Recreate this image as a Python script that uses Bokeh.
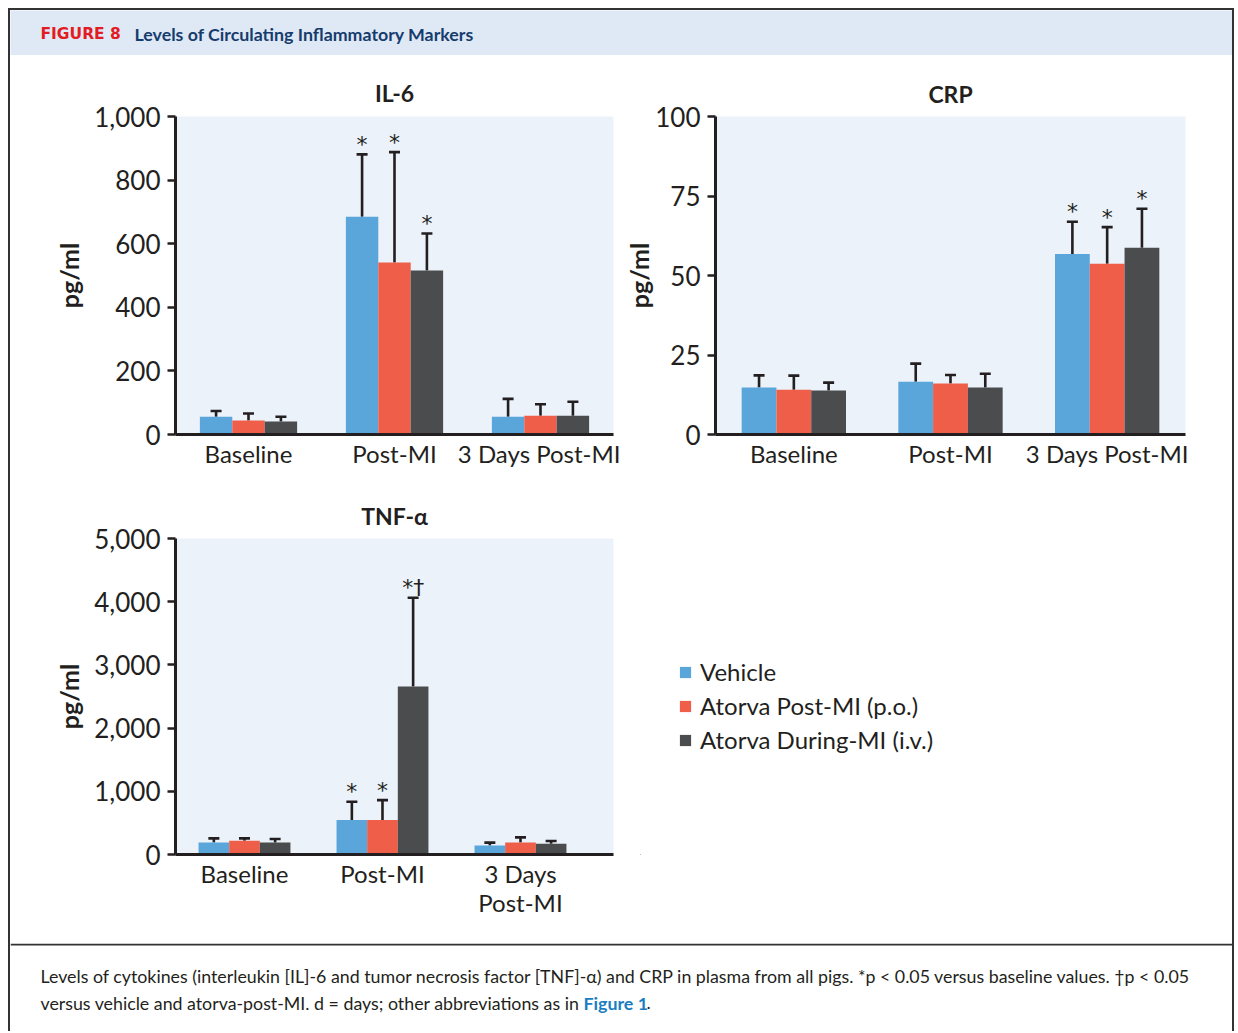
from bokeh.plotting import figure
from bokeh.models import (ColumnDataSource, Range1d, FixedTicker, NumeralTickFormatter,
                          Whisker, TeeHead, Legend, LegendItem, Label, Span)
from bokeh.layouts import column, row
from bokeh.transform import dodge
from bokeh.core.properties import value
from bokeh.embed import file_html
from bokeh.resources import INLINE

# ---------------- data ----------------
series_names = ["Vehicle", "Atorva Post-MI (p.o.)", "Atorva During-MI (i.v.)"]
series_colors = ["#5aa5da", "#ee5e48", "#4b4c4e"]

il6_categories = ["Baseline", "Post-MI", "3 Days Post-MI"]
il6_vehicle = [56, 685, 56]
il6_vehicle_err = [18, 196, 56]
il6_post = [44, 541, 59]
il6_post_err = [22, 347, 36]
il6_during = [41, 516, 59]
il6_during_err = [15, 116, 44]
il6_vehicle_sig = ["", "*", ""]
il6_post_sig = ["", "*", ""]
il6_during_sig = ["", "*", ""]
il6_ticks = [0, 200, 400, 600, 800, 1000]

crp_categories = ["Baseline", "Post-MI", "3 Days Post-MI"]
crp_vehicle = [14.8, 16.6, 56.8]
crp_vehicle_err = [3.8, 5.7, 10.1]
crp_post = [14.1, 16.0, 53.7]
crp_post_err = [4.4, 2.7, 11.5]
crp_during = [13.8, 14.8, 58.7]
crp_during_err = [2.5, 4.3, 12.3]
crp_vehicle_sig = ["", "", "*"]
crp_post_sig = ["", "", "*"]
crp_during_sig = ["", "", "*"]
crp_ticks = [0, 25, 50, 75, 100]

tnf_categories = ["Baseline", "Post-MI", "3 Days\nPost-MI"]
tnf_vehicle = [188, 547, 141]
tnf_vehicle_err = [67, 287, 47]
tnf_post = [219, 547, 188]
tnf_post_err = [36, 313, 83]
tnf_during = [188, 2659, 172]
tnf_during_err = [57, 1403, 42]
tnf_vehicle_sig = ["", "*", ""]
tnf_post_sig = ["", "*", ""]
tnf_during_sig = ["", "*\u2020", ""]
tnf_ticks = [0, 1000, 2000, 3000, 4000, 5000]

header_tag = "FIGURE 8"
header_title = "Levels of Circulating Inflammatory Markers"
caption_line1 = ("Levels of cytokines (interleukin [IL]-6 and tumor necrosis factor [TNF]-\u03b1) "
                 "and CRP in plasma from all pigs. *p < 0.05 versus baseline values. \u2020p < 0.05")
caption_line2 = "versus vehicle and atorva-post-MI. d = days; other abbreviations as in "
caption_link = "Figure 1"

# ---------------- style ----------------
INK = "#231f20"
PLOT_BG = "#ebf2fa"
HEAD_BG = "#dfe9f5"
FONT = "Lato"
BAR_W = 0.222
OFFSETS = [-BAR_W, 0.0, BAR_W]


def make_chart(title, cats, means, errs, sigs, ticks, width, height,
               left, right, top, bottom, x_end, label_standoff=7, title_standoff=18):
    p = figure(width=width, height=height, output_backend="svg", toolbar_location=None,
               x_range=Range1d(-0.5, x_end), y_range=Range1d(0, ticks[-1]),
               min_border_left=left, min_border_right=right,
               min_border_top=top, min_border_bottom=bottom,
               background_fill_color=PLOT_BG, border_fill_color="white")
    p.outline_line_color = None
    p.grid.visible = False
    p.title.text = title
    p.title.align = "center"
    p.title.text_font = FONT
    p.title.text_font_size = "23px"
    p.title.text_font_style = "bold"
    p.title.text_color = INK
    p.title.standoff = title_standoff

    idx = list(range(len(cats)))
    sources = []
    for m, e, s, c, off in zip(means, errs, sigs, series_colors, OFFSETS):
        src = ColumnDataSource(dict(x=idx, top=m, upper=[a + b for a, b in zip(m, e)], sig=s))
        sources.append(src)
        p.vbar(x=dodge("x", off), top="top", bottom=0, width=BAR_W, source=src,
               fill_color=c, line_color=None)
        p.add_layout(Whisker(base=dodge("x", off), lower="top", upper="upper", source=src,
                             dimension="height", line_color=INK, line_width=2.6,
                             upper_head=TeeHead(size=11, line_color=INK, line_width=2.6),
                             lower_head=None))
        p.text(x=dodge("x", off), y="upper", text="sig", source=src,
               text_align="center", text_baseline="alphabetic", y_offset=-10,
               text_font=value("DejaVu Sans"), text_font_size="22px", text_color=INK)

    ya = p.yaxis[0]
    ya.ticker = FixedTicker(ticks=ticks)
    ya.formatter = NumeralTickFormatter(format="0,0")
    ya.axis_line_color = INK
    ya.axis_line_width = 3
    ya.major_tick_line_color = INK
    ya.major_tick_line_width = 2.5
    ya.major_tick_out = 8
    ya.major_tick_in = 0
    ya.minor_tick_line_color = None
    ya.major_label_text_font = FONT
    ya.major_label_text_font_size = "26px"
    ya.major_label_text_color = INK
    ya.major_label_standoff = 7
    ya.axis_label = "pg/ml"
    ya.axis_label_text_font = FONT
    ya.axis_label_text_font_size = "25px"
    ya.axis_label_text_font_style = "bold"
    ya.axis_label_text_color = INK
    ya.axis_label_standoff = label_standoff

    xa = p.xaxis[0]
    xa.ticker = FixedTicker(ticks=idx)
    xa.major_label_overrides = {i: c for i, c in zip(idx, cats)}
    xa.axis_line_color = INK
    xa.axis_line_width = 3
    xa.major_tick_line_color = None
    xa.minor_tick_line_color = None
    xa.major_label_text_font = FONT
    xa.major_label_text_font_size = "24px"
    xa.major_label_text_color = INK
    xa.major_label_text_line_height = 1.0
    xa.major_label_standoff = -2
    return p, sources


def blank(width, height, bg):
    p = figure(width=width, height=height, output_backend="svg", toolbar_location=None,
               x_range=Range1d(0, width), y_range=Range1d(0, height),
               x_axis_location=None, y_axis_location=None, min_border=0,
               background_fill_color=bg, border_fill_color=bg)
    p.outline_line_color = None
    p.grid.visible = False
    return p


# header
head = blank(1222, 45, HEAD_BG)
head.add_layout(Label(x=30, y=22, text=header_tag, text_font="DejaVu Sans",
                      text_font_size="15.5px", text_font_style="bold",
                      text_color="#e31b23", text_baseline="middle"))
head.add_layout(Label(x=124, y=22, text=header_title, text_font=FONT,
                      text_font_size="17.8px", text_font_style="bold",
                      text_color="#163c6e", text_baseline="middle"))

il6, _ = make_chart("IL-6", il6_categories,
                    [il6_vehicle, il6_post, il6_during],
                    [il6_vehicle_err, il6_post_err, il6_during_err],
                    [il6_vehicle_sig, il6_post_sig, il6_during_sig],
                    il6_ticks, 610, 435, 165, 7, 59, 56, 2.5, title_standoff=20)
crp, _ = make_chart("CRP", crp_categories,
                    [crp_vehicle, crp_post, crp_during],
                    [crp_vehicle_err, crp_post_err, crp_during_err],
                    [crp_vehicle_sig, crp_post_sig, crp_during_sig],
                    crp_ticks, 612, 435, 95, 47, 61, 56, 2.5, label_standoff=-2,
                    title_standoff=18)
tnf, tnf_sources = make_chart("TNF-\u03b1", tnf_categories,
                              [tnf_vehicle, tnf_post, tnf_during],
                              [tnf_vehicle_err, tnf_post_err, tnf_during_err],
                              [tnf_vehicle_sig, tnf_post_sig, tnf_during_sig],
                              tnf_ticks, 630, 453, 165, 27, 44, 89, 2.674, title_standoff=18)

# legend panel (frame row-aligned with the TNF frame); its proxy bars lie entirely outside its view
lg = figure(width=592, height=453, output_backend="svg", toolbar_location=None,
            x_range=Range1d(3, 4), y_range=Range1d(5000, 10000),
            x_axis_location=None, y_axis_location=None,
            min_border_left=0, min_border_right=0, min_border_top=44, min_border_bottom=89,
            background_fill_color="white", border_fill_color="white")
lg.outline_line_color = None
lg.grid.visible = False
items = []
for name, color, src, off in zip(series_names, series_colors, tnf_sources, OFFSETS):
    r = lg.vbar(x=dodge("x", off), top="top", bottom=0, width=BAR_W, source=src,
                fill_color=color, line_color=None)
    items.append(LegendItem(label=name, renderers=[r]))
legend = Legend(items=items, location=(38, 100), glyph_width=14, glyph_height=14,
                label_standoff=8, spacing=5, padding=0, margin=0,
                border_line_color=None, background_fill_alpha=0,
                label_text_font=FONT, label_text_font_size="24px", label_text_color=INK)
lg.add_layout(legend)

# caption
CAP_H = 88
cap = blank(1222, CAP_H, "white")
cap.add_layout(Span(location=CAP_H - 1, dimension="width", line_color="#333333", line_width=2))
cap.add_layout(Label(x=30, y=CAP_H - 32, text=caption_line1, text_font=FONT, text_font_size="17.8px",
                     text_color=INK, text_baseline="middle"))
cap.add_layout(Label(x=30, y=CAP_H - 59, text=caption_line2, text_font=FONT, text_font_size="17.8px",
                     text_color=INK, text_baseline="middle"))
cap.add_layout(Label(x=573, y=CAP_H - 59, text=caption_link, text_font=FONT, text_font_size="17.8px",
                     text_font_style="bold", text_color="#1a7dc1", text_baseline="middle"))
cap.add_layout(Label(x=636, y=CAP_H - 59, text=".", text_font=FONT, text_font_size="17.8px",
                     text_color=INK, text_baseline="middle"))

page = column(head, row(il6, crp), row(tnf, lg), cap,
              styles={"margin": "8px 0 0 8px",
                      "border-left": "2px solid #333333",
                      "border-right": "2px solid #333333",
                      "border-top": "2px solid #333333"})

open("out.html", "w").write(file_html(page, INLINE))
